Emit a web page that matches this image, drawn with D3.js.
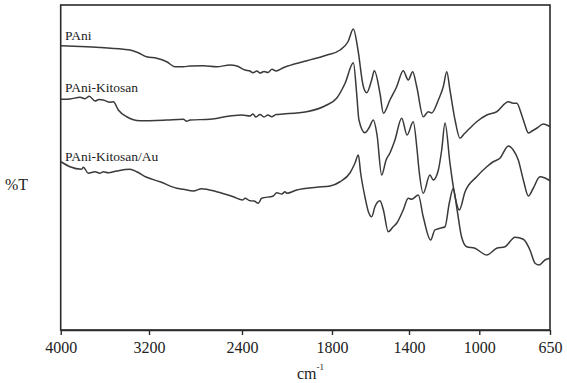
<!DOCTYPE html>
<html>
<head>
<meta charset="utf-8">
<script src="https://cdn.jsdelivr.net/npm/d3@7"></script>
<style>
  body { margin: 0; background: #fff; }
  text { font-family: "Liberation Serif", "Times New Roman", serif; fill: #222; }
</style>
</head>
<body>
<div id="chart"></div>
<script>
// wavenumber ticks (axis is not linear in the original, so the scale is piecewise)
const tickWave = [4000, 3200, 2400, 1800, 1400, 1000, 650];

// [wavenumber, %T offset]
const pani = [
  [3997, 113.7], [3825, 113.4], [3644, 113.0], [3433, 112.3], [3372, 112], [3297, 110.9],
  [3221, 109.3], [3134, 108.7], [3048, 107.3], [2976, 105.3], [2905, 105.3], [2847, 105.6],
  [2733, 105.7], [2618, 105.3], [2503, 106], [2443, 105.6], [2380, 104], [2347, 103.6],
  [2327, 102.9], [2300, 103.6], [2280, 102.8], [2253, 103.4], [2227, 103], [2200, 104.3],
  [2173, 103.6], [2125, 104.9], [1967, 107.7], [1833, 110], [1758, 112], [1717, 115.3],
  [1689, 120.4], [1665, 112], [1639, 98], [1620, 94.9], [1594, 100], [1580, 103.7],
  [1551, 94.8], [1533, 86.7], [1499, 92], [1464, 97.3], [1430, 103.7], [1404, 100],
  [1379, 103.3], [1356, 97.3], [1319, 85.3], [1290, 87.3], [1271, 86.8], [1233, 92],
  [1205, 97.3], [1185, 103.3], [1167, 96], [1138, 84], [1110, 76.7], [1087, 78.4],
  [1064, 80], [1015, 83.3], [963, 86], [914, 87.3], [856, 91.3], [832, 90.7], [815, 90.7],
  [790, 86], [774, 82], [757, 78.8], [739, 79.6], [716, 80.7], [683, 82.4], [650, 81.3]
];

const paniKitosan = [
  [3997, 92.3], [3916, 92.4], [3825, 93.1], [3780, 92.5], [3741, 93.5], [3689, 91.6],
  [3653, 92.2], [3614, 92], [3553, 91.1], [3523, 91.3], [3478, 88], [3402, 85.3],
  [3281, 83.7], [3048, 84], [2905, 84.3], [2876, 83.5], [2847, 84], [2675, 84.3],
  [2503, 85.6], [2400, 86], [2347, 85.6], [2327, 86.4], [2307, 85.2], [2280, 86.2],
  [2253, 85.2], [2227, 86], [2202, 85.3], [2173, 86.2], [2125, 86.4], [1969, 87.3],
  [1835, 90], [1776, 92.7], [1732, 98.7], [1689, 106.9], [1672, 94.7], [1660, 84],
  [1629, 78.9], [1608, 80.8], [1585, 84], [1566, 78], [1542, 62], [1519, 68],
  [1499, 70.8], [1473, 76], [1438, 84.7], [1410, 78], [1376, 83.3], [1354, 72],
  [1343, 64], [1319, 54.7], [1281, 62], [1262, 60], [1233, 64], [1214, 72],
  [1195, 82.8], [1167, 66.8], [1138, 53.3], [1114, 48], [1081, 55.3], [1015, 61.3],
  [963, 65.3], [931, 67.3], [898, 68.7], [856, 73.6], [832, 72], [807, 68],
  [782, 60], [757, 53.6], [733, 56.7], [700, 61.3], [675, 60.8], [650, 59.7]
];

const paniKitosanAu = [
  [3997, 67.3], [3916, 65.3], [3810, 64.3], [3795, 65.1], [3750, 62.7], [3689, 63.3],
  [3644, 62.7], [3614, 63.3], [3569, 62.9], [3493, 63.6], [3372, 64.3], [3312, 63.3],
  [3221, 61.1], [3105, 59.3], [2962, 56.7], [2905, 56.3], [2819, 55.6], [2747, 56.5],
  [2618, 55.3], [2475, 53.3], [2395, 52], [2380, 52.7], [2347, 51.7], [2320, 51.6],
  [2291, 50.7], [2269, 52.7], [2191, 53.6], [2169, 54.9], [2135, 54.4], [2113, 55.3],
  [2102, 54.7], [2035, 56], [1902, 57.1], [1813, 57.6], [1758, 59.3], [1706, 62.9],
  [1681, 66.7], [1663, 70], [1651, 62.7], [1629, 53.3], [1611, 47.3], [1594, 45.3],
  [1577, 49.3], [1551, 51.7], [1533, 48], [1508, 39.3], [1482, 41.3], [1464, 42.7],
  [1430, 48], [1404, 52.7], [1385, 52.3], [1347, 54], [1319, 45.3], [1277, 36],
  [1253, 40], [1224, 40.7], [1195, 41.3], [1171, 50.7], [1148, 56.7], [1129, 49.3],
  [1101, 37.3], [1072, 33.3], [1025, 32.7], [963, 30], [914, 32.7], [873, 33.3],
  [823, 37.1], [782, 36.3], [749, 32], [724, 26.7], [703, 26], [675, 28], [650, 28.7]
];

const seriesNames = ["PAni", "PAni-Kitosan", "PAni-Kitosan/Au"];
const seriesData = [pani, paniKitosan, paniKitosanAu];

const width = 567, height = 383;
const plot = {left: 60.7, right: 550, top: 5, bottom: 330};

const svg = d3.select("#chart").append("svg")
  .attr("width", width)
  .attr("height", height);

const x = d3.scaleLinear()
  .domain(tickWave)
  .range([plot.left, 149, 242, 332, 409, 479.3, plot.right]);

const y = d3.scaleLinear().domain([0, 130]).range([plot.bottom, plot.top]);

// frame
svg.append("rect")
  .attr("x", plot.left).attr("y", plot.top)
  .attr("width", plot.right - plot.left).attr("height", plot.bottom - plot.top)
  .attr("fill", "none")
  .attr("stroke", "#2a2a2a")
  .attr("stroke-width", 1.6);

// x axis
const gx = svg.append("g")
  .attr("transform", "translate(0," + plot.bottom + ")")
  .call(d3.axisBottom(x).tickValues(tickWave).tickSize(5).tickSizeOuter(0).tickFormat(d3.format("d")));
gx.select(".domain").attr("stroke", "#2a2a2a").attr("stroke-width", 1.6);
gx.selectAll(".tick line").attr("stroke", "#2a2a2a").attr("stroke-width", 1.4);
gx.selectAll(".tick text")
  .attr("y", 12)
  .style("font-family", "Liberation Serif, serif")
  .style("font-size", "16px")
  .attr("fill", "#222");

// axis titles
const xt = svg.append("text")
  .attr("x", 297)
  .attr("y", 379)
  .style("font-size", "16px");
xt.append("tspan").text("cm");
xt.append("tspan").attr("dy", -9).style("font-size", "9px").text("-1");

svg.append("text")
  .attr("x", 5)
  .attr("y", 190)
  .style("font-size", "16px")
  .text("%T");

// spectra
const line = d3.line()
  .x(d => x(d[0]))
  .y(d => y(d[1]))
  .curve(d3.curveMonotoneX);

svg.append("g").selectAll("path")
  .data(seriesData)
  .enter()
  .append("path")
  .attr("d", line)
  .attr("fill", "none")
  .attr("stroke", "#3a3a3a")
  .attr("stroke-width", 1.5)
  .attr("stroke-linejoin", "round");

// series labels above each curve start
const labelY = [40, 92, 161];
svg.append("g").selectAll("text")
  .data(seriesNames)
  .enter()
  .append("text")
  .attr("x", 65)
  .attr("y", (d, i) => labelY[i])
  .style("font-size", "13.5px")
  .attr("fill", "#333")
  .text(d => d);
</script>
</body>
</html>
